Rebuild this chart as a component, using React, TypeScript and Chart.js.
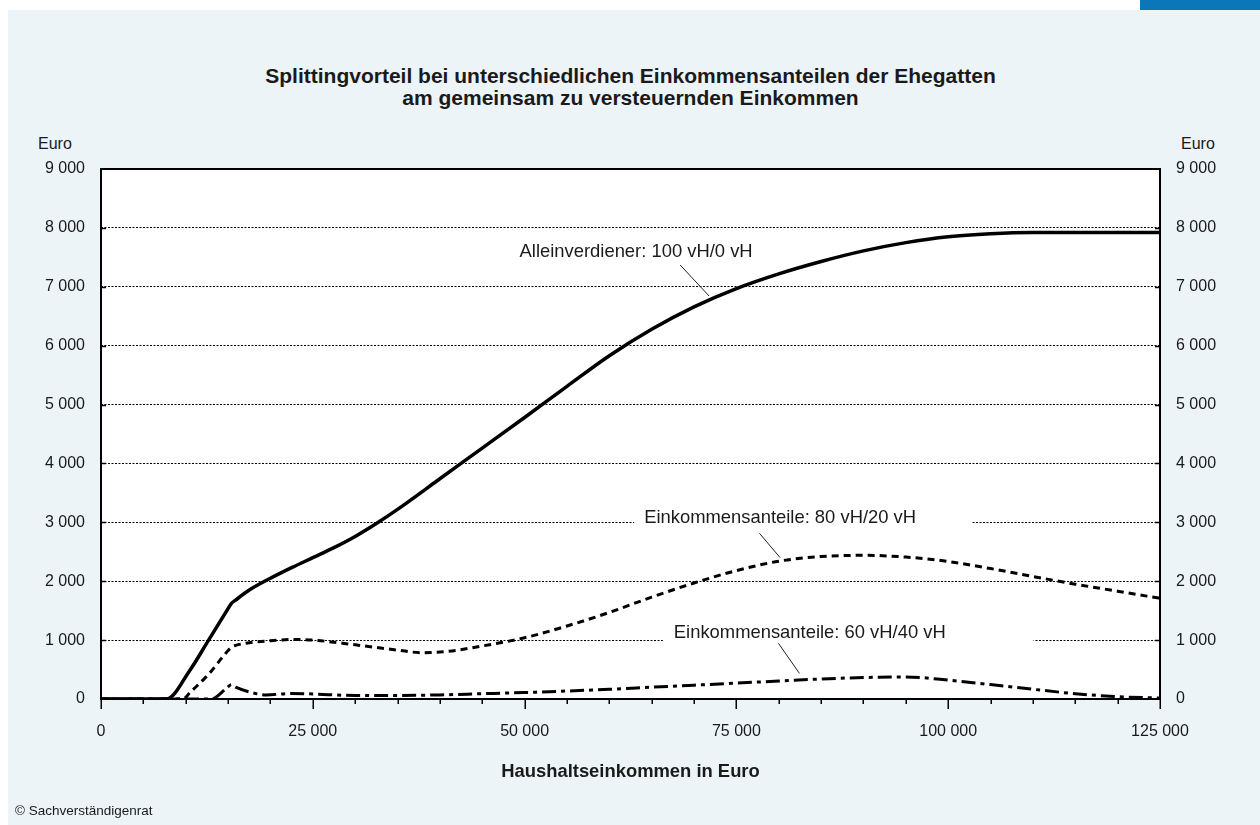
import React, { useEffect, useRef } from "react";
import { Chart, registerables } from "chart.js";

Chart.register(...registerables);

// ---- Data ----
// Alleinverdiener 100 vH / 0 vH
const incomeSingle = [
  0, 7700, 10500, 12700, 15000, 15400, 15800, 17500, 20000, 22500, 25000, 27500, 30000, 32500, 35000, 40000, 45000,
  50000, 55000, 60000, 65000, 70000, 75000, 80000, 85000, 90000, 95000, 100000, 105000, 110000, 125000,
];
const singleEarner = [
  0, 0, 490, 1000, 1535, 1625, 1670, 1850, 2050, 2230, 2400, 2570, 2760, 2980, 3220, 3740, 4260,
  4780, 5310, 5830, 6280, 6660, 6970, 7220, 7430, 7610, 7750, 7850, 7900, 7920, 7920,
];
// Einkommensanteile 80 vH / 20 vH
const income80 = [
  0, 9700, 10500, 12700, 14800, 15400, 15900, 17500, 20000, 22500, 25000, 30000, 35000, 38000, 41000,
  45000, 50000, 55000, 60000, 65000, 70000, 75000, 80000, 85000, 90000, 95000, 100000, 105000, 110000,
  115000, 120000, 125000,
];
const share80_20 = [
  0, 0, 110, 420, 790, 878, 910, 955, 990, 1010, 1000, 920, 830, 785, 810,
  900, 1040, 1240, 1470, 1730, 1970, 2180, 2340, 2420, 2440, 2410, 2335, 2215, 2080,
  1950, 1830, 1710,
];
// Einkommensanteile 60 vH / 40 vH
const income60 = [
  0, 13000, 14800, 15400, 15900, 17500, 19500, 22500, 25000, 30000, 35000, 40000, 45000, 50000, 55000,
  60000, 65000, 70000, 75000, 80000, 85000, 90000, 95000, 100000, 105000, 110000, 115000, 120000, 125000,
];
const share60_40 = [
  0, 0, 180, 245, 200, 120, 70, 95, 85, 60, 60, 70, 90, 110, 135,
  165, 200, 235, 270, 305, 340, 365, 375, 320, 245, 165, 90, 40, 15,
];
const seriesNames = ["Alleinverdiener: 100 vH/0 vH", "Einkommensanteile: 80 vH/20 vH", "Einkommensanteile: 60 vH/40 vH"];
const yMax = 9000;
const yStep = 1000;
const xMax = 125000;
const xLabelStep = 25000;
const xMinorStep = 5000;

const FONT = "'Liberation Sans', Arial, Helvetica, sans-serif";
const PANEL = "#ecf4f8";

const fmt = (v: number) => String(v).replace(/\B(?=(\d{3})+(?!\d))/g, " ");

// annotation layout (data coordinates)
const notes = [
  { text: seriesNames[0], x: 63160, y: 7590, box: null as null | number[], leader: [68360, 7370, 71780, 6843] },
  { text: seriesNames[1], x: 80160, y: 3080, box: [62930, 102830], leader: [77720, 2814, 80160, 2400] },
  { text: seriesNames[2], x: 83660, y: 1115, box: [66320, 110070], leader: [79960, 946, 82440, 436] },
];

const pts = (xs: number[], ys: number[]) => xs.map((x, i) => ({ x, y: ys[i] }));

const deco = {
  id: "deco",
  beforeDraw(chart: any) {
    const { ctx, chartArea: a } = chart;
    ctx.save();
    ctx.fillStyle = "#ffffff";
    ctx.fillRect(a.left, a.top, a.right - a.left, a.bottom - a.top);
    ctx.restore();
  },
  beforeDatasetsDraw(chart: any) {
    const { ctx, scales } = chart;
    const x = scales.x, y = scales.y;
    ctx.save();
    ctx.fillStyle = "#ffffff";
    for (const n of notes) {
      if (!n.box) continue;
      const cy = y.getPixelForValue(n.y);
      const x0 = x.getPixelForValue(n.box[0]);
      const x1 = x.getPixelForValue(n.box[1]);
      ctx.fillRect(x0, cy - 11, x1 - x0, 22);
    }
    ctx.restore();
  },
  afterDatasetsDraw(chart: any) {
    const { ctx, chartArea: a, scales } = chart;
    const x = scales.x, y = scales.y;
    ctx.save();
    ctx.strokeStyle = "#000";
    ctx.lineWidth = 1.5;
    for (let v = 0; v <= xMax; v += xMinorStep) {
      const px = Math.round(x.getPixelForValue(v)) + 0.25;
      const len = v % xLabelStep === 0 ? 10 : 5;
      ctx.beginPath();
      ctx.moveTo(px, a.bottom);
      ctx.lineTo(px, a.bottom + len);
      ctx.stroke();
    }
    for (let v = yStep; v < yMax; v += yStep) {
      const py = Math.round(y.getPixelForValue(v)) + 0.5;
      ctx.beginPath();
      ctx.moveTo(a.left, py);
      ctx.lineTo(a.left + 5, py);
      ctx.moveTo(a.right - 5, py);
      ctx.lineTo(a.right, py);
      ctx.stroke();
    }
    ctx.lineWidth = 2;
    ctx.strokeRect(a.left, a.top, a.right - a.left, a.bottom - a.top);
    ctx.fillStyle = "#1a1a1a";
    ctx.font = `18.4px ${FONT}`;
    ctx.textAlign = "center";
    ctx.textBaseline = "middle";
    ctx.lineWidth = 1;
    ctx.strokeStyle = "#222";
    for (const n of notes) {
      ctx.fillText(n.text, x.getPixelForValue(n.x), y.getPixelForValue(n.y));
      const l = n.leader;
      ctx.beginPath();
      ctx.moveTo(x.getPixelForValue(l[0]), y.getPixelForValue(l[1]));
      ctx.lineTo(x.getPixelForValue(l[2]), y.getPixelForValue(l[3]));
      ctx.stroke();
    }
    ctx.restore();
  },
};

export default function App() {
  const ref = useRef<HTMLCanvasElement | null>(null);

  useEffect(() => {
    if (!ref.current) return;
    const tickFont = { family: FONT, size: 16 };
    const chart = new Chart(ref.current, {
      type: "line",
      data: {
        datasets: [
          {
            label: seriesNames[0],
            data: pts(incomeSingle, singleEarner),
            borderColor: "#000",
            borderWidth: 3.5,
            pointRadius: 0,
            cubicInterpolationMode: "monotone",
          },
          {
            label: seriesNames[1],
            data: pts(income80, share80_20),
            borderColor: "#000",
            borderWidth: 3,
            borderDash: [7, 5],
            pointRadius: 0,
            cubicInterpolationMode: "monotone",
          },
          {
            label: seriesNames[2],
            data: pts(income60, share60_40),
            borderColor: "#000",
            borderWidth: 3,
            borderDash: [14, 5, 4, 5],
            pointRadius: 0,
            cubicInterpolationMode: "monotone",
          },
        ],
      },
      options: {
        responsive: false,
        animation: false,
        events: [],
        layout: { padding: { left: 0, right: 0, top: 169, bottom: 0 } },
        plugins: { legend: { display: false }, tooltip: { enabled: false }, title: { display: false } },
        scales: {
          x: {
            type: "linear",
            min: 0,
            max: xMax,
            afterFit: (s: any) => { s.height = 126; },
            afterBuildTicks: (s: any) => {
              const t = [];
              for (let v = 0; v <= xMax; v += xLabelStep) t.push({ value: v });
              s.ticks = t;
            },
            ticks: { font: tickFont, color: "#1a1a1a", padding: 23, maxRotation: 0, autoSkip: false, callback: (v: any) => fmt(Number(v)) },
            grid: { display: false, drawTicks: false },
            border: { display: false },
          },
          y: {
            type: "linear",
            position: "left",
            min: 0,
            max: yMax,
            afterFit: (s: any) => { s.width = 101; },
            ticks: { stepSize: yStep, font: tickFont, color: "#1a1a1a", padding: 16, callback: (v: any) => fmt(Number(v)) },
            grid: { color: "#000", lineWidth: 1, drawTicks: false },
            border: { display: false, dash: [2, 1.5] },
          },
          y2: {
            type: "linear",
            position: "right",
            min: 0,
            max: yMax,
            afterFit: (s: any) => { s.width = 100; },
            ticks: { stepSize: yStep, font: tickFont, color: "#1a1a1a", padding: 16, callback: (v: any) => fmt(Number(v)) },
            grid: { display: false, drawTicks: false },
            border: { display: false },
          },
        },
      },
      plugins: [deco],
    } as any);
    return () => chart.destroy();
  }, []);

  const abs = (s: React.CSSProperties): React.CSSProperties => ({ position: "absolute", ...s });

  return (
    <div style={abs({ left: 0, top: 0, width: 1260, height: 825, background: "#fff", overflow: "hidden", fontFamily: FONT, color: "#1a1a1a" })}>
      <div style={abs({ left: 8, top: 10, width: 1252, height: 815, background: PANEL })} />
      <div style={abs({ left: 1140, top: 0, width: 120, height: 10, background: "#0a77b8" })} />
      <div style={abs({ left: 0, top: 65, width: 1261, textAlign: "center", fontWeight: "bold", fontSize: 21, lineHeight: "22px" })}>
        Splittingvorteil bei unterschiedlichen Einkommensanteilen der Ehegatten
        <br />
        am gemeinsam zu versteuernden Einkommen
      </div>
      <div style={abs({ left: 38, top: 135, fontSize: 16 })}>Euro</div>
      <div style={abs({ left: 1181, top: 135, fontSize: 16 })}>Euro</div>
      <canvas ref={ref} width={1260} height={825} style={abs({ left: 0, top: 0, width: 1260, height: 825 })} />
      <div style={abs({ left: 0, top: 760, width: 1261, textAlign: "center", fontWeight: "bold", fontSize: 18.4 })}>
        Haushaltseinkommen in Euro
      </div>
      <div style={abs({ left: 15, top: 803, fontSize: 13.5 })}>© Sachverständigenrat</div>
    </div>
  );
}
